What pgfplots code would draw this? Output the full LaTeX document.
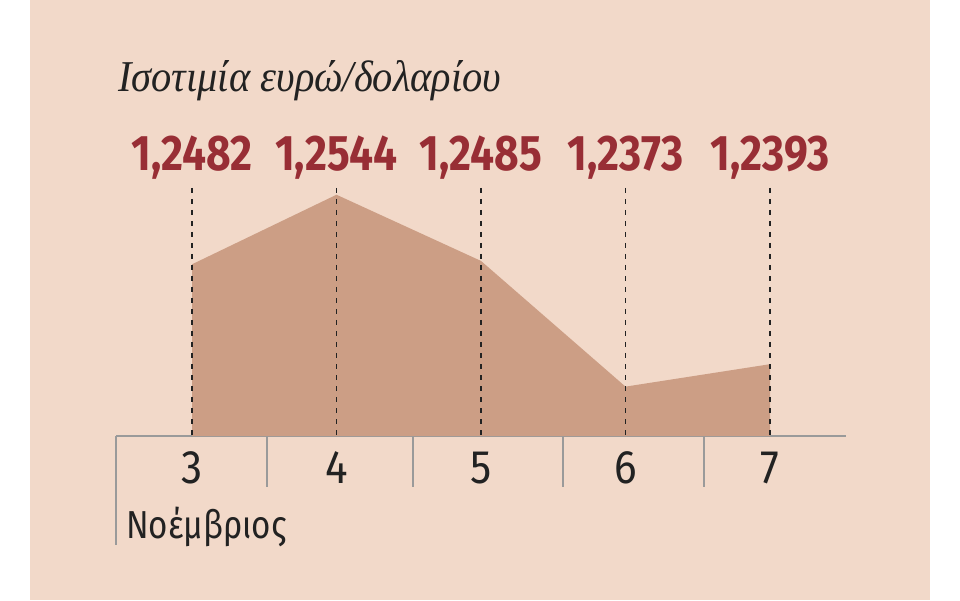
\documentclass[border=0pt]{standalone}
\usepackage{pgfplots}
\pgfplotsset{compat=1.18}
\usepackage{pgfplotstable}
\usepackage{fontspec}
\setmainfont{Fira Sans}
\newfontfamily\titlefont[FakeStretch=0.92]{Liberation Serif}
\newfontfamily\numfont[FakeStretch=0.85]{Fira Sans}
\newfontfamily\tickfont[FakeStretch=0.9]{Fira Sans}

\definecolor{panel}{HTML}{F2D9C9}
\definecolor{area}{HTML}{CC9E85}
\definecolor{valred}{HTML}{982E35}
\definecolor{axisgray}{HTML}{9A9A9A}
\definecolor{ink}{HTML}{222222}

% euro/dollar rate, 3-7 November
\pgfplotstableread{
day rate
3 1.2482
4 1.2544
5 1.2485
6 1.2373
7 1.2393
}\ratetable

\begin{document}
\begin{tikzpicture}
\useasboundingbox (0pt,0pt) rectangle (960pt,600pt);
\fill[white] (0pt,0pt) rectangle (960pt,600pt);
\fill[panel] (30pt,0pt) rectangle (930pt,600pt);

\node[anchor=base west, inner sep=0pt, text=ink]
  at (118pt,508pt) {\fontsize{44}{50}\selectfont\titlefont\itshape Ισοτιμία ευρώ/δολαρίου};

\begin{axis}[
    at={(116pt,164pt)}, anchor=south west,
    scale only axis,
    width=730pt, height=248pt,
    xmin=2.474, xmax=7.526,
    ymin=1.2329, ymax=1.2550,
    clip=false,
    axis x line=bottom, axis y line=none,
    x axis line style={-, draw=axisgray, line width=2.2pt},
    xtick={3,4,5,6,7},
    major tick length=0pt,
    xticklabel style={text=ink, font=\fontsize{47}{52}\selectfont\tickfont, anchor=center, yshift=-32pt},
    ytick=\empty,
    /pgf/number format/assume math mode=true,
]
\addplot[fill=area, draw=none] table[x=day, y=rate] {\ratetable} \closedcycle;

\pgfplotsinvokeforeach{3,4,5,6,7}{
  \draw[ink, line width=1.9pt, dash pattern=on 5pt off 6pt]
    (axis cs:#1,1.2550) -- (axis cs:#1,1.2329);
}

\addplot[draw=none, mark=none, point meta=explicit,
    nodes near coords={\fontsize{50}{56}\selectfont\numfont\bfseries\pgfmathprintnumber[fixed, fixed zerofill, precision=4, use comma, assume math mode=true]{\pgfplotspointmeta}},
    every node near coord/.append style={text=valred, anchor=center, yshift=30pt},
  ] table[x=day, y expr=1.2550, meta=rate] {\ratetable};

% column separators below the axis
\pgfplotsinvokeforeach{3.519,4.529,5.567,6.543}{
  \draw[axisgray, line width=2pt] (axis cs:#1,1.2329) -- ++(0pt,-51pt);
}
\draw[axisgray, line width=2pt] (axis cs:2.474,1.2329) -- ++(0pt,-109pt);
\end{axis}

\node[anchor=base west, inner sep=0pt, text=ink]
  at (126pt,62pt) {\fontsize{39}{44}\selectfont\numfont Νοέμβριος};
\end{tikzpicture}
\end{document}
